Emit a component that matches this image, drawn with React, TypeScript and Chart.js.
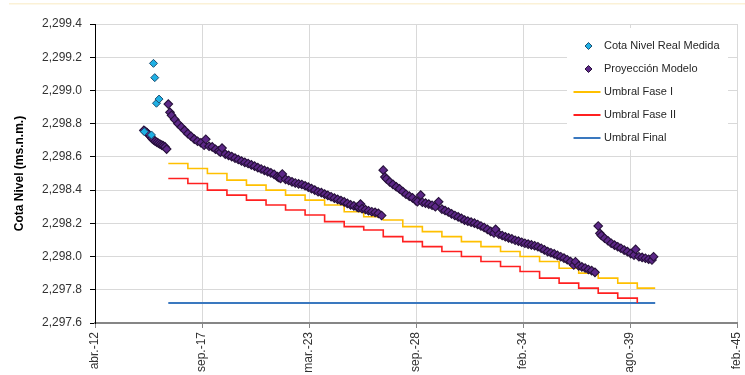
import { useEffect, useRef } from "react";
import { Chart, registerables } from "chart.js";

Chart.register(...registerables);

// ---- axis data ----
const xTickLabels = ["abr.-12", "sep.-17", "mar.-23", "sep.-28", "feb.-34", "ago.-39", "feb.-45"];
const xMinSerial = 41000;
const xMaxSerial = 53000;
const xStepDays = 2000;
const yMin = 2297.6;
const yMax = 2299.4;
const yStep = 0.2;

// ---- series data ----
const cotaRealMedida: [string, number][] = [
  ["2014-10-10", 2298.752],
  ["2015-02-20", 2298.732],
  ["2015-03-30", 2299.163],
  ["2015-04-23", 2299.077],
  ["2015-05-25", 2298.923],
  ["2015-07-12", 2298.948],
];

const proyeccionTramo1: [string, number][] = [
  ["2014-10", 2298.76], ["2014-11", 2298.753], ["2014-12", 2298.745], ["2015-01", 2298.735],
  ["2015-02", 2298.723], ["2015-03", 2298.711], ["2015-04", 2298.702], ["2015-05", 2298.694],
  ["2015-06", 2298.688], ["2015-07", 2298.682], ["2015-08", 2298.676], ["2015-09", 2298.671],
  ["2015-10", 2298.666], ["2015-11", 2298.66], ["2015-12", 2298.647],
];

const proyeccionTramo2: [string, number][] = [
  ["2016-01", 2298.918], ["2016-02", 2298.868], ["2016-03", 2298.85], ["2016-05", 2298.825], ["2016-07", 2298.8], ["2016-09", 2298.78], ["2016-11", 2298.76],
  ["2017-01", 2298.74], ["2017-03", 2298.724], ["2017-05", 2298.707], ["2017-07", 2298.694], ["2017-09", 2298.685], ["2017-11", 2298.67], ["2017-12", 2298.706],
  ["2018-02", 2298.664], ["2018-04", 2298.66], ["2018-06", 2298.646], ["2018-08", 2298.637], ["2018-09", 2298.629], ["2018-10", 2298.653], ["2018-12", 2298.617],
  ["2019-02", 2298.609], ["2019-04", 2298.602], ["2019-06", 2298.593], ["2019-08", 2298.584], ["2019-10", 2298.575], ["2019-12", 2298.567],
  ["2020-02", 2298.56], ["2020-04", 2298.552], ["2020-06", 2298.544], ["2020-08", 2298.535], ["2020-10", 2298.527], ["2020-12", 2298.519],
  ["2021-02", 2298.511], ["2021-04", 2298.504], ["2021-06", 2298.495], ["2021-08", 2298.481], ["2021-09", 2298.475], ["2021-10", 2298.471], ["2021-11", 2298.497],
  ["2022-01", 2298.465], ["2022-03", 2298.458], ["2022-05", 2298.45], ["2022-07", 2298.443], ["2022-09", 2298.438], ["2022-11", 2298.434],
  ["2023-01", 2298.426], ["2023-03", 2298.418], ["2023-05", 2298.409], ["2023-07", 2298.4], ["2023-09", 2298.39], ["2023-11", 2298.385],
  ["2024-01", 2298.376], ["2024-03", 2298.368], ["2024-05", 2298.36], ["2024-07", 2298.352], ["2024-09", 2298.344], ["2024-11", 2298.337],
  ["2025-01", 2298.329], ["2025-03", 2298.32], ["2025-05", 2298.311], ["2025-07", 2298.305], ["2025-09", 2298.298], ["2025-10", 2298.295], ["2025-11", 2298.316], ["2025-12", 2298.289],
  ["2026-02", 2298.283], ["2026-04", 2298.276], ["2026-06", 2298.27], ["2026-08", 2298.266], ["2026-10", 2298.26], ["2026-12", 2298.247],
];

const proyeccionTramo3: [string, number][] = [
  ["2027-01", 2298.52], ["2027-02", 2298.479], ["2027-03", 2298.468], ["2027-05", 2298.45], ["2027-07", 2298.435], ["2027-09", 2298.42], ["2027-11", 2298.407],
  ["2028-01", 2298.391], ["2028-03", 2298.375], ["2028-05", 2298.364], ["2028-07", 2298.353], ["2028-09", 2298.337], ["2028-10", 2298.33], ["2028-12", 2298.37],
  ["2029-01", 2298.327], ["2029-03", 2298.322], ["2029-05", 2298.316], ["2029-07", 2298.309], ["2029-09", 2298.3], ["2029-11", 2298.33],
  ["2030-01", 2298.286], ["2030-03", 2298.277], ["2030-05", 2298.268], ["2030-07", 2298.257], ["2030-09", 2298.247], ["2030-11", 2298.239],
  ["2031-01", 2298.23], ["2031-03", 2298.219], ["2031-05", 2298.213], ["2031-07", 2298.207], ["2031-09", 2298.201], ["2031-11", 2298.193],
  ["2032-01", 2298.184], ["2032-03", 2298.175], ["2032-05", 2298.164], ["2032-07", 2298.152], ["2032-09", 2298.142], ["2032-10", 2298.164], ["2032-12", 2298.134],
  ["2033-02", 2298.127], ["2033-04", 2298.119], ["2033-06", 2298.112], ["2033-08", 2298.106], ["2033-10", 2298.098], ["2033-12", 2298.093],
  ["2034-02", 2298.086], ["2034-04", 2298.08], ["2034-06", 2298.075], ["2034-08", 2298.07], ["2034-10", 2298.065], ["2034-12", 2298.059],
  ["2035-02", 2298.05], ["2035-04", 2298.04], ["2035-06", 2298.03], ["2035-08", 2298.023], ["2035-10", 2298.016], ["2035-12", 2298.007],
  ["2036-02", 2297.999], ["2036-04", 2297.991], ["2036-06", 2297.981], ["2036-08", 2297.97], ["2036-10", 2297.949], ["2036-11", 2297.969],
  ["2037-01", 2297.944], ["2037-03", 2297.938], ["2037-05", 2297.931], ["2037-07", 2297.922], ["2037-09", 2297.915], ["2037-11", 2297.905],
];

const proyeccionTramo4: [string, number][] = [
  ["2038-01", 2298.184], ["2038-02", 2298.14], ["2038-03", 2298.127], ["2038-05", 2298.11], ["2038-07", 2298.095], ["2038-09", 2298.08], ["2038-11", 2298.069],
  ["2039-01", 2298.059], ["2039-03", 2298.05], ["2039-05", 2298.039], ["2039-07", 2298.03], ["2039-09", 2298.018], ["2039-11", 2298.009], ["2039-12", 2298.043],
  ["2040-02", 2297.999], ["2040-04", 2297.995], ["2040-06", 2297.99], ["2040-08", 2297.984], ["2040-10", 2297.979], ["2040-11", 2297.999],
];

const umbralFaseI: [string, number][] = [
  ["2016-01", 2298.56], ["2017-01", 2298.53], ["2018-01", 2298.5], ["2019-01", 2298.46], ["2020-01", 2298.43],
  ["2021-01", 2298.4], ["2022-01", 2298.37], ["2023-01", 2298.34], ["2024-01", 2298.31], ["2025-01", 2298.27],
  ["2026-01", 2298.24], ["2027-01", 2298.22], ["2028-01", 2298.18], ["2029-01", 2298.15], ["2030-01", 2298.12],
  ["2031-01", 2298.09], ["2032-01", 2298.06], ["2033-01", 2298.03], ["2034-01", 2298.0], ["2035-01", 2297.97],
  ["2036-01", 2297.93], ["2037-01", 2297.9], ["2038-01", 2297.87], ["2039-01", 2297.84], ["2040-01", 2297.81],
  ["2040-12", 2297.81],
];

const umbralFaseII: [string, number][] = [
  ["2016-01", 2298.47], ["2017-01", 2298.44], ["2018-01", 2298.4], ["2019-01", 2298.37], ["2020-01", 2298.34],
  ["2021-01", 2298.31], ["2022-01", 2298.28], ["2023-01", 2298.25], ["2024-01", 2298.21], ["2025-01", 2298.18],
  ["2026-01", 2298.16], ["2027-01", 2298.12], ["2028-01", 2298.09], ["2029-01", 2298.06], ["2030-01", 2298.03],
  ["2031-01", 2298.0], ["2032-01", 2297.97], ["2033-01", 2297.94], ["2034-01", 2297.91], ["2035-01", 2297.87],
  ["2036-01", 2297.84], ["2037-01", 2297.81], ["2038-01", 2297.78], ["2039-01", 2297.75], ["2040-01", 2297.72],
];

const umbralFinal: [string, number][] = [
  ["2016-01", 2297.72],
  ["2040-12", 2297.72],
];

// ---- helpers ----
function toSerial(d: string): number {
  const parts = d.split("-").map(Number);
  const day = parts[2] || 1;
  return Date.UTC(parts[0], parts[1] - 1, day) / 86400000 + 25569;
}
function toPoints(rows: [string, number][]) {
  return rows.map(([d, v]) => ({ x: toSerial(d), y: v }));
}
function fmtY(v: number): string {
  const s = v.toFixed(1);
  const [i, f] = s.split(".");
  return i.replace(/\B(?=(\d{3})+(?!\d))/g, ",") + "." + f;
}

const FONT = "'Liberation Sans', Arial, sans-serif";

const legendPlugin = {
  id: "insideLegend",
  afterDraw(chart: any) {
    const { ctx, chartArea } = chart;
    const right = chartArea.right;
    const top = chartArea.top;
    ctx.save();
    ctx.fillStyle = "#ffffff";
    ctx.fillRect(right - 170, top + 4, 161, 122);
    const rowY0 = top + 22;
    const rowStep = 23;
    chart.data.datasets.forEach((ds: any, i: number) => {
      const y = rowY0 + i * rowStep;
      if (ds.showLine === false) {
        const cx = right - 148.5;
        const r = 3.5;
        ctx.beginPath();
        ctx.moveTo(cx - r, y);
        ctx.lineTo(cx, y - r);
        ctx.lineTo(cx + r, y);
        ctx.lineTo(cx, y + r);
        ctx.closePath();
        ctx.fillStyle = ds.pointBackgroundColor;
        ctx.fill();
        ctx.lineWidth = 1;
        ctx.strokeStyle = ds.pointBorderColor;
        ctx.stroke();
      } else {
        ctx.beginPath();
        ctx.moveTo(right - 163.5, y);
        ctx.lineTo(right - 136.5, y);
        ctx.lineWidth = 2;
        ctx.strokeStyle = ds.borderColor;
        ctx.stroke();
      }
      ctx.fillStyle = "#262626";
      ctx.font = "11px " + FONT;
      ctx.textAlign = "left";
      ctx.textBaseline = "middle";
      ctx.fillText(ds.label, right - 133, y);
    });
    ctx.restore();
  },
};

const topRulePlugin = {
  id: "topRule",
  beforeDraw(chart: any) {
    const { ctx } = chart;
    ctx.save();
    ctx.fillStyle = "#fbf1d6";
    ctx.fillRect(9, 3, chart.width - 9, 1.5);
    ctx.restore();
  },
};

export default function App() {
  const canvasRef = useRef<HTMLCanvasElement | null>(null);

  useEffect(() => {
    if (!canvasRef.current) return;
    Chart.defaults.font.family = FONT;
    const proyeccion = [
      ...toPoints(proyeccionTramo1),
      ...toPoints(proyeccionTramo2),
      ...toPoints(proyeccionTramo3),
      ...toPoints(proyeccionTramo4),
    ];
    const chart = new Chart(canvasRef.current, {
      type: "line",
      data: {
        datasets: [
          {
            label: "Cota Nivel Real Medida",
            data: toPoints(cotaRealMedida),
            showLine: false,
            pointStyle: "rectRot",
            pointRadius: 4,
            pointBorderWidth: 1,
            pointBackgroundColor: "#1fb0e4",
            pointBorderColor: "#1d4d70",
            borderColor: "#1fb0e4",
            backgroundColor: "#1fb0e4",
          },
          {
            label: "Proyección Modelo",
            data: proyeccion,
            showLine: false,
            pointStyle: "rectRot",
            pointRadius: 4.3,
            pointBorderWidth: 1.1,
            pointBackgroundColor: "#5c2787",
            pointBorderColor: "#26103a",
            borderColor: "#7030a0",
            backgroundColor: "#7030a0",
          },
          {
            label: "Umbral Fase I",
            data: toPoints(umbralFaseI),
            stepped: "before",
            borderColor: "#ffc000",
            backgroundColor: "#ffc000",
            borderWidth: 1.6,
            pointRadius: 0,
            fill: false,
          },
          {
            label: "Umbral Fase II",
            data: toPoints(umbralFaseII),
            stepped: "before",
            borderColor: "#ff2020",
            backgroundColor: "#ff2020",
            borderWidth: 1.6,
            pointRadius: 0,
            fill: false,
          },
          {
            label: "Umbral Final",
            data: toPoints(umbralFinal),
            borderColor: "#3a78bf",
            backgroundColor: "#3a78bf",
            borderWidth: 2,
            pointRadius: 0,
            fill: false,
          },
        ],
      },
      options: {
        animation: false,
        responsive: false,
        devicePixelRatio: 1,
        layout: { padding: { top: 24, right: 8, bottom: 0, left: 0 } },
        plugins: {
          legend: { display: false },
          tooltip: { enabled: false },
        },
        scales: {
          x: {
            type: "linear",
            min: xMinSerial,
            max: xMaxSerial,
            ticks: {
              stepSize: xStepDays,
              autoSkip: false,
              minRotation: 90,
              maxRotation: 90,
              padding: 4,
              color: "#333333",
              font: { size: 12, family: FONT },
              callback: (v: any) => xTickLabels[Math.round((Number(v) - xMinSerial) / xStepDays)] ?? "",
            },
            grid: { color: "#d9d9d9", tickColor: "#868686", tickLength: 5, lineWidth: 1 },
            border: { color: "#868686", width: 2 },
            afterFit: (s: any) => {
              s.height = 52;
              s.paddingLeft = 0;
              s.paddingRight = 0;
            },
          },
          y: {
            type: "linear",
            min: yMin,
            max: yMax,
            ticks: {
              stepSize: yStep,
              padding: 8,
              color: "#333333",
              font: { size: 12, family: FONT },
              callback: (v: any) => fmtY(Number(v)),
            },
            grid: { color: "#d9d9d9", tickColor: "#000000", tickLength: 5, lineWidth: 1 },
            border: { color: "#000000", width: 1 },
            title: {
              display: true,
              text: "Cota Nivel (ms.n.m.)",
              color: "#000000",
              font: { size: 12, weight: "bold", family: FONT },
              padding: { top: 12, bottom: 0 },
            },
            afterFit: (s: any) => {
              s.width = 95;
              s.paddingTop = 0;
              s.paddingBottom = 0;
            },
          },
        },
      } as any,
      plugins: [legendPlugin, topRulePlugin],
    });
    return () => chart.destroy();
  }, []);

  return (
    <div style={{ position: "fixed", left: 0, top: 0, width: 745, height: 375, background: "#fff" }}>
      <canvas ref={canvasRef} width={745} height={375} style={{ display: "block" }} />
    </div>
  );
}
